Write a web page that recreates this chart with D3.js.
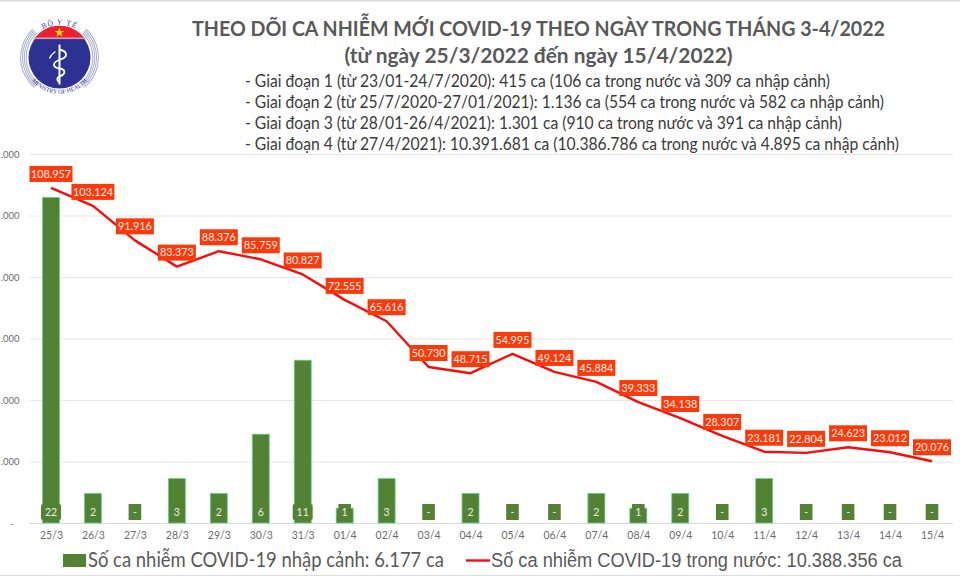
<!DOCTYPE html>
<html><head><meta charset="utf-8">
<script src="https://cdnjs.cloudflare.com/ajax/libs/d3/7.8.5/d3.min.js"></script>
<style>html,body{margin:0;padding:0;background:#fff;overflow:hidden}svg{display:block}text{font-family:Lato,sans-serif}</style>
</head><body><svg id="c" width="960" height="576"></svg>
<script>
const titleLines = ["THEO DÕI CA NHIỄM MỚI COVID-19 THEO NGÀY TRONG THÁNG 3-4/2022","(từ ngày 25/3/2022 đến ngày 15/4/2022)"];
const stageLines = [
"- Giai đoạn 1 (từ 23/01-24/7/2020): 415 ca (106 ca trong nước và 309 ca nhập cảnh)",
"- Giai đoạn 2 (từ 25/7/2020-27/01/2021): 1.136 ca (554 ca trong nước và 582 ca nhập cảnh)",
"- Giai đoạn 3 (từ 28/01-26/4/2021): 1.301 ca (910 ca trong nước và 391 ca nhập cảnh)",
"- Giai đoạn 4 (từ 27/4/2021): 10.391.681 ca (10.386.786 ca trong nước và 4.895 ca nhập cảnh)"];
const days = ["25/3","26/3","27/3","28/3","29/3","30/3","31/3","01/4","02/4","03/4","04/4","05/4","06/4","07/4","08/4","09/4","10/4","11/4","12/4","13/4","14/4","15/4"];
const imported = [22,2,0,3,2,6,11,1,3,0,2,0,0,2,1,2,0,3,0,0,0,0];
const domestic = [108957,103124,91916,83373,88376,85759,80827,72555,65616,50730,48715,54995,49124,45884,39333,34138,28307,23181,22804,24623,23012,20076];
const yTicks = [0,20000,40000,60000,80000,100000,120000];
const legendBar = "Số ca nhiễm COVID-19 nhập cảnh: 6.177 ca";
const legendLine = "Số ca nhiễm COVID-19 trong nước: 10.388.356 ca";

const svg = d3.select("#c");
const fmt = v => v === 0 ? "-" : String(v).replace(/\B(?=(\d{3})+$)/g, ".");
// the reference only shows the part of each tick label that fits on the page
const tickFmt = v => v === 0 ? "-" : ".000";
const x = d3.scalePoint().domain(days).range([51,932]);
const y = d3.scaleLinear().domain([0,120000]).range([523,154]);
const yb = d3.scaleLinear().domain([0,25]).range([523,153]);

// page borders
svg.append("rect").attr("width",960).attr("height",1.5).attr("fill","#dcdcdc");
svg.append("rect").attr("y",575).attr("width",960).attr("height",1).attr("fill","#dcdcdc");

// title
svg.selectAll("text.t").data(titleLines).join("text").attr("class","t")
 .attr("x",538.5).attr("y",(d,i)=>i?62.5:35.5).attr("text-anchor","middle")
 .attr("font-weight",700).attr("font-size",20.5).attr("fill","#595959")
 .attr("textLength",(d,i)=>i?388:693).attr("lengthAdjust","spacingAndGlyphs").text(d=>d);
const stageW=[585,639,597,654];
svg.selectAll("text.s").data(stageLines).join("text").attr("class","s")
 .attr("x",245).attr("y",(d,i)=>87+i*20.9).attr("font-size",17).attr("fill","#3a3a3a")
 .attr("textLength",(d,i)=>stageW[i]).attr("lengthAdjust","spacingAndGlyphs").text(d=>d);

// y axis & grid
const ax = d3.axisLeft(y).tickValues(yTicks).tickFormat(tickFmt).tickSize(0).tickPadding(0);
const gy = svg.append("g").attr("transform","translate(19.5,0)").call(ax);
gy.select(".domain").remove();
gy.selectAll("text").attr("font-size",9.5).attr("fill","#6b6b6b").style("font-family","Lato");
gy.selectAll("text").filter(d=>d===0).attr("dx",-6);
svg.append("g").selectAll("line").data(yTicks).join("line")
 .attr("x1",30).attr("x2",953).attr("y1",d=>y(d)+.5).attr("y2",d=>y(d)+.5)
 .attr("stroke",d=>d?"#e6e6e6":"#d9d9d9").attr("stroke-width",1.2);

// x axis
const gx = svg.append("g").attr("transform","translate(0,523)").call(d3.axisBottom(x).tickSize(0).tickPadding(9));
gx.select(".domain").remove();
gx.selectAll("text").attr("font-size",10.5).attr("fill","#6b6b6b").style("font-family","Lato");

// bars
const green="#548235";
svg.append("g").selectAll("rect").data(days.map((d,i)=>({d,v:imported[i]})).filter(e=>e.v>0)).join("rect")
 .attr("x",e=>x(e.d)-8.5).attr("width",17).attr("y",e=>yb(e.v)).attr("height",e=>523-yb(e.v))
 .attr("fill",green).attr("stroke","#62d48c").attr("stroke-width",.8);
// bar labels
const bl = svg.append("g").selectAll("g").data(days.map((d,i)=>({d,v:imported[i]}))).join("g")
 .attr("transform",e=>`translate(${x(e.d)},512)`);
bl.append("rect").attr("x",e=>e.v>=10?-10:-6.3).attr("width",e=>e.v>=10?20:12.6).attr("y",-8).attr("height",16)
 .attr("rx",e=>e.v>=10?2:0).attr("fill",green);
bl.append("text").attr("text-anchor","middle").attr("y",4).attr("font-size",10.5).attr("fill","#e8efe2").text(e=>fmt(e.v));

// line
svg.append("path").datum(domestic).attr("fill","none").attr("stroke","#fb0a0a").attr("stroke-width",2.4)
 .attr("stroke-linejoin","round")
 .attr("d",d3.line().x((d,i)=>x(days[i])).y(d=>y(d)));
// value labels
const vl = svg.append("g").selectAll("g").data(domestic).join("g")
 .attr("transform",(d,i)=>`translate(${x(days[i])},${y(d)-14})`);
vl.append("rect").attr("x",d=>d>=100000?-21.5:-19).attr("width",d=>d>=100000?43:38).attr("y",-8).attr("height",16).attr("fill","#fb3a0c");
vl.append("text").attr("text-anchor","middle").attr("y",3.8).attr("font-size",10.8).attr("fill","#fff1e8").text(fmt);

// legend
svg.append("rect").attr("x",63).attr("y",554).attr("width",23).attr("height",13).attr("fill",green);
svg.append("text").attr("x",88).attr("y",567).attr("font-size",21).attr("fill","#595959")
 .attr("textLength",356).attr("lengthAdjust","spacingAndGlyphs").text(legendBar);
svg.append("line").attr("x1",466).attr("x2",490).attr("y1",560.5).attr("y2",560.5).attr("stroke","#fb0a0a").attr("stroke-width",2.4);
svg.append("text").attr("x",491).attr("y",567).attr("font-size",19.5).attr("fill","#595959").style("font-family","'Liberation Sans'")
 .attr("textLength",411).attr("lengthAdjust","spacingAndGlyphs").text(legendLine);

// logo
const L = svg.append("g").attr("transform","translate(59.5,57.5)");
[33.5,35.3,37.1,38.9].forEach(r=>{
  const arc=d3.arc().innerRadius(r-.5).outerRadius(r+.5);
  [[-2.45,-0.75],[0.75,2.45]].forEach(([a,b])=>{
    L.append("path").attr("d",arc({startAngle:a,endAngle:b})).attr("fill","#a9aed0");
  });
});
L.append("circle").attr("r",31).attr("fill","#2e3192");
L.append("path").attr("d","M-25.5,-18.5 A31,31 0 0 1 25.5,-18.5 Z").attr("fill","#ee2030");
L.append("rect").attr("x",-26).attr("y",-20).attr("width",52).attr("height",1.6).attr("fill","#c9a3b5");
L.append("path").attr("d",d3.symbol().type(d3.symbolStar).size(28)()).attr("transform","translate(0,-25)").attr("fill","#ffe100");
L.append("line").attr("x1",0).attr("x2",0).attr("y1",-13).attr("y2",27).attr("stroke","#fff").attr("stroke-width",2);
L.append("path").attr("d","M0,-8 C9,-6 8,0 1,2 C-8,5 -7,10 0,11 C7,12 6,17 0,19 C-3,20 -3,23 0,25").attr("fill","none").attr("stroke","#fff").attr("stroke-width",1.8);
L.append("path").attr("d","M-4,-6 C-7,-4 -9,-2 -10,1").attr("fill","none").attr("stroke","#fff").attr("stroke-width",1.2);
const defs=svg.append("defs");
defs.append("path").attr("id","arcTop").attr("d","M-32,-8 A33,33 0 0 1 32,-8");
defs.append("path").attr("id","arcBot").attr("d","M-34,12 A36,36 0 0 0 34,12");
L.append("text").attr("font-size",7.5).attr("letter-spacing",1).style("font-family","'Liberation Serif'").attr("fill","#2e3192")
 .append("textPath").attr("href","#arcTop").attr("startOffset","50%").attr("text-anchor","middle").text("BỘ Y TẾ");
L.append("text").attr("font-size",6).style("font-family","'Liberation Serif'").attr("fill","#2e3192")
 .append("textPath").attr("href","#arcBot").attr("startOffset","50%").attr("text-anchor","middle").text("MINISTRY OF HEALTH");
</script></body></html>
